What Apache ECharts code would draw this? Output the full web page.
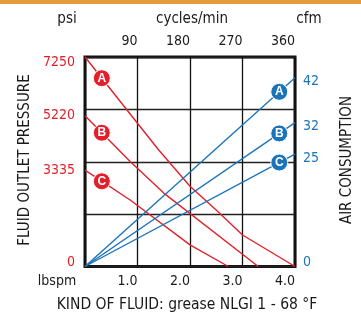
<!DOCTYPE html>
<html>
<head>
<meta charset="utf-8">
<script src="https://cdn.jsdelivr.net/npm/echarts@6/dist/echarts.min.js"></script>
<style>
  html, body { margin: 0; padding: 0; background: #fff; }
  #chart { width: 361px; height: 313px; }
</style>
</head>
<body>
<div id="chart"></div>
<script>
// tick labels
const pressureTicks = [0, 3335, 5220, 7250];   // psi, left
const airTicks = [0, 25, 32, 42];              // cfm, right
const flowTicks = [1, 2, 3, 4];                // lbspm, bottom
const cycleTicks = [90, 180, 270, 360];        // cycles/min, top

// fluid outlet pressure curves [lbspm, psi]
const pressureA = [[0, 7250], [1.4, 4040], [2.0, 2780], [2.55, 1870], [3.0, 1090], [4.0, 0]];
const pressureB = [[0, 5220], [0.86, 3630], [1.5, 2540], [3.3, 0]];
const pressureC = [[0, 3335], [0.86, 2300], [2.0, 750], [2.73, 0]];

// air consumption lines [cycles/min, cfm]
const airA = [[0, 0], [360, 42]];
const airB = [[0, 0], [360, 32]];
const airC = [[0, 0], [360, 25]];

const letters = ['A', 'B', 'C'];
const badgeFlow = 0.32;     // lbspm where the red badges sit
const badgeCycles = 333;    // cycles/min where the blue badges sit

const RED = '#e3202a';
const BLUE = '#1b74ba';
const INK = '#1a1a1a';
const FONT = "'Liberation Sans Narrow', 'DejaVu Sans Condensed', sans-serif";

function valueAt(points, x) {
    for (let i = 1; i < points.length; i++) {
        const p0 = points[i - 1], p1 = points[i];
        if (x <= p1[0]) {
            return p0[1] + (p1[1] - p0[1]) * (x - p0[0]) / (p1[0] - p0[0]);
        }
    }
    return points[points.length - 1][1];
}

function curve(data, color, xi, yi, letter, at) {
    return {
        type: 'line',
        xAxisIndex: xi,
        yAxisIndex: yi,
        data: data,
        showSymbol: false,
        silent: true,
        lineStyle: { color: color, width: 1.4 },
        markPoint: {
            symbol: 'circle',
            symbolSize: 17,
            itemStyle: { color: color, borderColor: '#fff', borderWidth: 1 },
            label: {
                show: true,
                formatter: letter,
                color: '#fff',
                fontWeight: 'bold',
                fontSize: 12,
                fontFamily: 'Liberation Sans, Arial, sans-serif'
            },
            data: [{ coord: [at, valueAt(data, at)] }]
        }
    };
}

const chart = echarts.init(document.getElementById('chart'));

const option = {
    animation: false,
    grid: {
        left: 85, top: 57, width: 210, height: 209.5,
        show: true, borderColor: '#111', borderWidth: 3, backgroundColor: 'transparent'
    },
    xAxis: [
        {
            type: 'value', min: 0, max: 4, interval: 1, position: 'bottom',
            axisLine: { show: false }, axisTick: { show: false },
            splitLine: { show: true, lineStyle: { color: '#111', width: 1.3 } },
            axisLabel: {
                customValues: flowTicks,
                formatter: v => v.toFixed(1),
                align: 'right', margin: 8,
                color: INK, fontSize: 14, fontFamily: FONT
            }
        },
        {
            type: 'value', min: 0, max: 360, interval: 90, position: 'top',
            axisLine: { show: false }, axisTick: { show: false },
            splitLine: { show: false },
            axisLabel: {
                customValues: cycleTicks,
                align: 'right', margin: 9,
                color: INK, fontSize: 14, fontFamily: FONT
            }
        }
    ],
    yAxis: [
        {
            type: 'value', min: 0, max: 7250, interval: 1812.5, position: 'left',
            axisLine: { show: false }, axisTick: { show: false },
            splitLine: { show: true, lineStyle: { color: '#222', width: 1.3 } },
            axisLabel: {
                customValues: pressureTicks,
                margin: 10,
                color: RED, fontSize: 14, fontFamily: FONT,
                formatter: v => v === 7250 ? '{t|' + v + '}' : v === 0 ? '{z|0}' : String(v),
                rich: {
                    t: { color: RED, fontSize: 14, fontFamily: FONT, padding: [10, 0, 0, 0] },
                    z: { color: RED, fontSize: 14, fontFamily: FONT, padding: [0, 0, 8, 0] }
                }
            }
        },
        {
            type: 'value', min: 0, max: 46.6, position: 'right',
            axisLine: { show: false }, axisTick: { show: false },
            splitLine: { show: false },
            axisLabel: {
                customValues: airTicks,
                margin: 8,
                color: BLUE, fontSize: 14, fontFamily: FONT,
                formatter: v => v === 0 ? '{z|0}' : '{t|' + v + '}',
                rich: {
                    t: { color: BLUE, fontSize: 14, fontFamily: FONT, padding: [8, 0, 0, 0] },
                    z: { color: BLUE, fontSize: 14, fontFamily: FONT, padding: [0, 0, 8, 0] }
                }
            }
        }
    ],
    graphic: [
        { type: 'rect', left: 0, top: 0, shape: { width: 361, height: 4 }, style: { fill: '#e49b3c' } },
        { type: 'text', x: 67, y: 19, style: { text: 'psi', fill: INK, font: '15px ' + FONT, textAlign: 'center', textVerticalAlign: 'middle' } },
        { type: 'text', x: 192, y: 19, style: { text: 'cycles/min', fill: INK, font: '15px ' + FONT, textAlign: 'center', textVerticalAlign: 'middle' } },
        { type: 'text', x: 309, y: 19, style: { text: 'cfm', fill: INK, font: '15px ' + FONT, textAlign: 'center', textVerticalAlign: 'middle' } },
        { type: 'text', x: 57, y: 281, style: { text: 'lbspm', fill: INK, font: '14px ' + FONT, textAlign: 'center', textVerticalAlign: 'middle' } },
        { type: 'text', x: 187, y: 305, style: { text: 'KIND OF FLUID: grease NLGI 1 - 68 °F', fill: INK, font: '15.5px ' + FONT, textAlign: 'center', textVerticalAlign: 'middle' } },
        { type: 'text', x: 25, y: 160, rotation: Math.PI / 2, style: { text: 'FLUID OUTLET PRESSURE', fill: INK, font: '15px ' + FONT, textAlign: 'center', textVerticalAlign: 'middle' } },
        { type: 'text', x: 347, y: 160, rotation: Math.PI / 2, style: { text: 'AIR CONSUMPTION', fill: INK, font: '15px ' + FONT, textAlign: 'center', textVerticalAlign: 'middle' } }
    ],
    series: [
        curve(pressureA, RED, 0, 0, letters[0], badgeFlow),
        curve(pressureB, RED, 0, 0, letters[1], badgeFlow),
        curve(pressureC, RED, 0, 0, letters[2], badgeFlow),
        curve(airA, BLUE, 1, 1, letters[0], badgeCycles),
        curve(airB, BLUE, 1, 1, letters[1], badgeCycles),
        curve(airC, BLUE, 1, 1, letters[2], badgeCycles)
    ]
};

chart.setOption(option);
window.addEventListener('resize', () => chart.resize());
</script>
</body>
</html>
